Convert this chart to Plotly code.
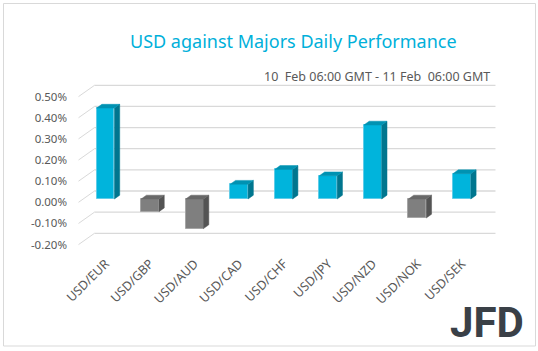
import plotly.graph_objects as go

# ---------------- data ----------------
categories = ["USD/EUR", "USD/GBP", "USD/AUD", "USD/CAD", "USD/CHF",
              "USD/JPY", "USD/NZD", "USD/NOK", "USD/SEK"]
values = [0.43, -0.06, -0.14, 0.07, 0.14, 0.11, 0.35, -0.09, 0.12]   # percent
tick_values = [-0.2, -0.1, 0.0, 0.1, 0.2, 0.3, 0.4, 0.5]
title_text = "USD against Majors Daily Performance"
subtitle_text = "10  Feb 06:00 GMT - 11 Feb  06:00 GMT"

# ---------------- geometry / style ----------------
W, H = 538, 351
L, R, T, B = 70, 500, 80, 250            # plot-area pixel box
CAT0_PX, CAT_STEP = 105.5, 44.55         # pixel x of first category, step
ZERO_PX, PX_PER_UNIT = 199.0, 211.4      # pixel y of zero (bar plane), px per 1%

x_range = [(L - CAT0_PX) / CAT_STEP, (R - CAT0_PX) / CAT_STEP]
y_range = [(ZERO_PX - B) / PX_PER_UNIT, (ZERO_PX - T) / PX_PER_UNIT]

# depth offsets (data units) relative to the bar plane
dx_back, dy_back = 11.3 / CAT_STEP, 8.0 / PX_PER_UNIT
dx_front, dy_front = -4.7 / CAT_STEP, -3.3 / PX_PER_UNIT
bar_w = 0.40
dxd, dyd = 5.3 / CAT_STEP, 3.8 / PX_PER_UNIT   # bar depth

pos_front, pos_top, pos_side, pos_edge = "#00B4DC", "#0092B2", "#00768F", "#60CCE8"
neg_front, neg_top, neg_side, neg_edge = "#7F7F7F", "#686868", "#545454", "#A6A6A6"
grid_col = "#D9D9D9"
text_col = "#595959"
font_family = "Noto Sans, Open Sans, sans-serif"


def px2paper_x(px):
    return (px - L) / (R - L)


def px2paper_y(py):
    return (B - py) / (B - T)


fig = go.Figure()

# front faces of the bars
fig.add_trace(go.Bar(
    x=list(range(len(categories))), y=values, width=bar_w,
    marker=dict(color=[pos_front if v >= 0 else neg_front for v in values],
                line=dict(color=[pos_edge if v >= 0 else neg_edge for v in values], width=1)),
    hoverinfo="skip", showlegend=False,
))

# top and side faces as polygons computed from the values
def faces(sign_pos):
    tx, ty, sx, sy = [], [], [], []
    for i, v in enumerate(values):
        if (v >= 0) != sign_pos:
            continue
        x0, x1 = i - bar_w / 2, i + bar_w / 2
        hi, lo = max(v, 0), min(v, 0)
        tx += [x0, x1, x1 + dxd, x0 + dxd, x0, None]
        ty += [hi, hi, hi + dyd, hi + dyd, hi, None]
        sx += [x1, x1, x1 + dxd, x1 + dxd, x1, None]
        sy += [lo, hi, hi + dyd, lo + dyd, lo, None]
    return tx, ty, sx, sy


for sign_pos, ctop, cside in [(True, pos_top, pos_side), (False, neg_top, neg_side)]:
    tx, ty, sx, sy = faces(sign_pos)
    fig.add_trace(go.Scatter(x=sx, y=sy, mode="lines", fill="toself", fillcolor=cside,
                             line=dict(width=0.5, color=cside), hoverinfo="skip", showlegend=False))
    fig.add_trace(go.Scatter(x=tx, y=ty, mode="lines", fill="toself", fillcolor=ctop,
                             line=dict(width=0.5, color=ctop), hoverinfo="skip", showlegend=False))

# invisible trace for the label axis
fig.add_trace(go.Scatter(x=[0], y=[0], yaxis="y2", mode="markers",
                         marker=dict(opacity=0), hoverinfo="skip", showlegend=False))

# back-wall gridlines and left diagonals computed from the tick values
n = len(categories)
shapes = []
for t in tick_values:
    shapes.append(dict(type="line", xref="x", yref="y", layer="below",
                       x0=-0.5 + dx_back, x1=n - 0.5 + dx_back,
                       y0=t + dy_back, y1=t + dy_back,
                       line=dict(color=grid_col, width=1.3)))
    shapes.append(dict(type="line", xref="x", yref="y", layer="below",
                       x0=-0.5 + dx_front, x1=-0.5 + dx_back,
                       y0=t + dy_front, y1=t + dy_back,
                       line=dict(color=grid_col, width=1)))
# outer border
shapes.append(dict(type="rect", xref="paper", yref="paper",
                   x0=px2paper_x(3.5), x1=px2paper_x(535.5),
                   y0=px2paper_y(346), y1=px2paper_y(3.5),
                   line=dict(color=grid_col, width=1)))

annotations = [
    dict(text=title_text, xref="paper", yref="paper", x=px2paper_x(293), y=px2paper_y(41),
         xanchor="center", yanchor="middle", showarrow=False,
         font=dict(family=font_family, size=18, color="#00B0DA")),
    dict(text=subtitle_text, xref="paper", yref="paper", x=px2paper_x(492), y=px2paper_y(76),
         xanchor="right", yanchor="middle", showarrow=False,
         font=dict(family=font_family, size=12.5, color=text_col)),
    dict(text="<b>JFD</b>", xref="paper", yref="paper", x=px2paper_x(487), y=px2paper_y(322),
         xanchor="center", yanchor="middle", showarrow=False,
         font=dict(family="Roboto, sans-serif", size=42, color="#3A4047")),
]

fig.update_layout(
    width=W, height=H,
    margin=dict(l=L, r=W - R, t=T, b=H - B, pad=0),
    paper_bgcolor="white", plot_bgcolor="rgba(0,0,0,0)",
    shapes=shapes, annotations=annotations,
    xaxis=dict(range=x_range, tickmode="array", tickvals=list(range(n)), ticktext=categories,
               tickangle=-45, showgrid=False, zeroline=False, showline=False,
               ticklabelstandoff=3,
               tickfont=dict(family=font_family, size=12.5, color=text_col)),
    yaxis=dict(range=y_range, showgrid=False, zeroline=False, showticklabels=False,
               showline=False),
    yaxis2=dict(range=[y_range[0] - dy_front, y_range[1] - dy_front], overlaying="y", side="left",
                tickmode="array", tickvals=tick_values,
                ticktext=[f"{t:.2f}%" for t in tick_values],
                showgrid=False, zeroline=False, showline=False, ticklabelstandoff=2,
                tickfont=dict(family=font_family, size=11.5, color=text_col)),
    bargap=0,
)

fig.write_html("out.html")
